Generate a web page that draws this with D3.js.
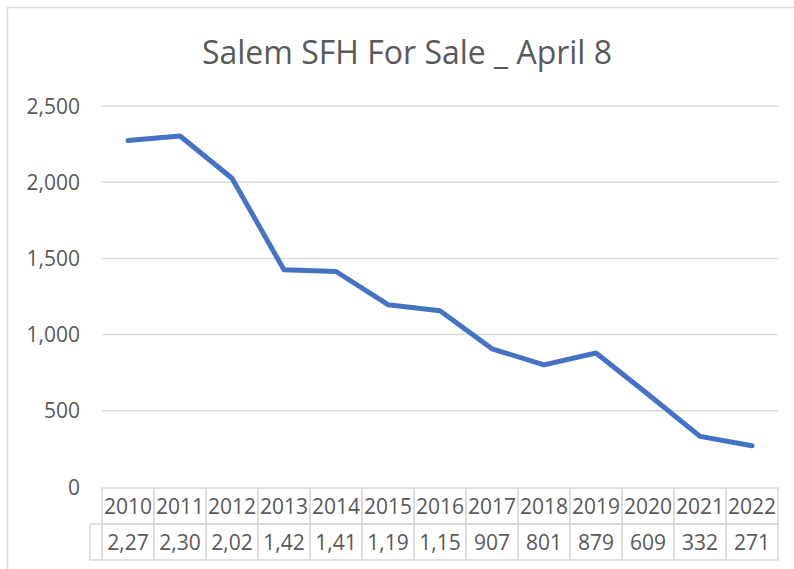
<!DOCTYPE html>
<html>
<head>
<meta charset="utf-8">
<script src="https://cdn.jsdelivr.net/npm/d3@7"></script>
<style>
  body { margin: 0; background: #fff; }
  text { font-family: "Open Sans", sans-serif; fill: #595959; }
</style>
</head>
<body>
<div id="chart"></div>
<script>
// data
var years = ["2010", "2011", "2012", "2013", "2014", "2015", "2016",
             "2017", "2018", "2019", "2020", "2021", "2022"];
var forSale = [2274, 2303, 2026, 1425, 1414, 1196, 1157, 907, 801, 879, 609, 332, 271];
// the data table cells are clipped in the original, so keep the shown text
var tableLabels = ["2,27", "2,30", "2,02", "1,42", "1,41", "1,19", "1,15",
                   "907", "801", "879", "609", "332", "271"];
var yTicks = [0, 500, 1000, 1500, 2000, 2500];

var width = 794, height = 569;
var svg = d3.select("#chart").append("svg").attr("width", width).attr("height", height);

// chart frame (runs off the right and bottom edges)
svg.append("rect")
   .attr("x", 7.5).attr("y", 7.5)
   .attr("width", 820).attr("height", 620)
   .attr("fill", "#fff").attr("stroke", "#d9d9d9").attr("stroke-width", 1.5);

svg.append("text")
   .attr("x", 407).attr("y", 64)
   .attr("text-anchor", "middle")
   .style("font-size", "32px")
   .text("Salem SFH For Sale _ April 8");

var plotLeft = 102, plotRight = 778;
var x = d3.scaleBand().domain(years).range([plotLeft, plotRight]);
var y = d3.scaleLinear().domain([0, 2500]).range([487, 106]);

// gridlines
svg.append("g")
   .selectAll("line")
   .data(yTicks.filter(function(d) { return d > 0; }))
   .enter().append("line")
   .attr("x1", plotLeft).attr("x2", plotRight)
   .attr("y1", function(d) { return y(d); })
   .attr("y2", function(d) { return y(d); })
   .attr("stroke", "#d9d9d9").attr("stroke-width", 1.5);

// y axis, no line or ticks
var yAxis = svg.append("g")
   .attr("transform", "translate(80,0)")
   .call(d3.axisLeft(y).tickValues(yTicks).tickFormat(d3.format(",")).tickSize(0).tickPadding(0));
yAxis.select(".domain").remove();
yAxis.selectAll("text")
   .attr("dy", "0.34em")
   .style("font-size", "21px")
   .style("font-family", "'Open Sans', sans-serif")
   .attr("fill", "#595959");

// data line
var line = d3.line()
   .x(function(d, i) { return x(years[i]) + x.bandwidth() / 2; })
   .y(function(d) { return y(d); });

svg.append("path")
   .datum(forSale)
   .attr("fill", "none")
   .attr("stroke", "#4472c4")
   .attr("stroke-width", 5)
   .attr("stroke-linejoin", "round")
   .attr("stroke-linecap", "round")
   .attr("d", line);

// data table under the axis
var rowTop = y(0) + 1, rowH = 36;
var table = svg.append("g");
var cellStroke = "#d9d9d9";

// empty series-name cell on the second row
table.append("rect")
   .attr("x", 90).attr("y", rowTop + rowH)
   .attr("width", plotLeft - 90).attr("height", rowH)
   .attr("fill", "none").attr("stroke", cellStroke).attr("stroke-width", 1.5);

years.forEach(function(yr, i) {
  var cx = x(yr);
  table.append("rect")
     .attr("x", cx).attr("y", rowTop)
     .attr("width", x.bandwidth()).attr("height", rowH)
     .attr("fill", "none").attr("stroke", cellStroke).attr("stroke-width", 1.5);
  table.append("rect")
     .attr("x", cx).attr("y", rowTop + rowH)
     .attr("width", x.bandwidth()).attr("height", rowH)
     .attr("fill", "none").attr("stroke", cellStroke).attr("stroke-width", 1.5);
  table.append("text")
     .attr("x", cx + x.bandwidth() / 2).attr("y", rowTop + rowH / 2)
     .attr("dy", "0.36em").attr("text-anchor", "middle")
     .style("font-size", "21px")
     .text(yr);
  table.append("text")
     .attr("x", cx + x.bandwidth() / 2).attr("y", rowTop + rowH * 1.5)
     .attr("dy", "0.36em").attr("text-anchor", "middle")
     .style("font-size", "21px")
     .text(tableLabels[i]);
});
</script>
</body>
</html>
